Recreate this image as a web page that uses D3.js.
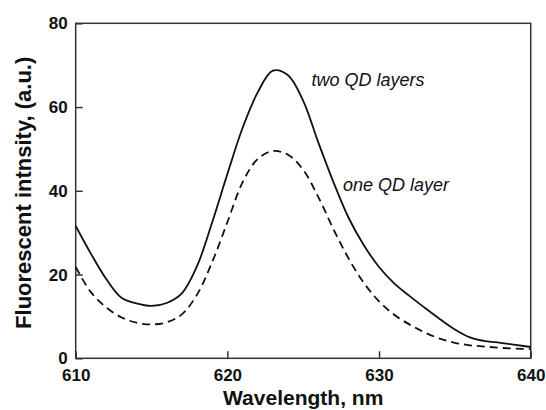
<!DOCTYPE html>
<html>
<head>
<meta charset="utf-8">
<script src="https://cdn.jsdelivr.net/npm/d3@7"></script>
<style>
  body { margin: 0; background: #fff; }
  svg { display: block; font-family: "Liberation Sans", Arial, sans-serif; }
</style>
</head>
<body>
<svg id="chart" width="546" height="410"></svg>
<script>
// wavelength grid (nm)
var wavelengths = [610, 611, 612, 613, 614, 615, 616, 617, 618, 619, 620,
    621, 622, 623, 624, 625, 626, 627, 628, 629, 630,
    631, 632, 633, 634, 635, 636, 637, 638, 639, 640];

// two QD layers (solid)
var twoLayers = [31.6, 25, 19, 14.5, 13.1, 12.5, 13.2, 15.5, 22, 32.5, 44,
    55, 63.5, 68.7, 67.6, 61.5, 51.5, 42, 33.5, 27, 21.8,
    17.9, 14.9, 12.1, 9.4, 6.9, 5, 4.1, 3.7, 3.2, 2.7];

// one QD layer (dashed)
var oneLayer = [21.8, 15.8, 12.2, 9.8, 8.5, 8.1, 8.6, 10.5, 15.2, 23, 32.5,
    42, 47.6, 49.5, 48.6, 45, 38.5, 30.8, 23.8, 18, 13.6,
    10.4, 8.1, 6.2, 4.7, 3.7, 3.1, 2.8, 2.5, 2.3, 2.2];

var xTicks = [610, 620, 630, 640];
var yTicks = [0, 20, 40, 60, 80];

var svg = d3.select("svg#chart");

var margin = {
    top:    23.3,
    right:  15.3,
    bottom: 51.7,
    left:   75.7
};

var plotWidth = 546 - margin.left - margin.right;
var plotHeight = 410 - margin.top - margin.bottom;

var xScale = d3.scaleLinear()
    .domain([610, 640])
    .range([0, plotWidth]);

var yScale = d3.scaleLinear()
    .domain([0, 80])
    .range([plotHeight, 0]);

var plot = svg.append("g")
    .attr("transform", "translate(" + margin.left + "," + margin.top + ")");

// frame
plot.append("rect")
    .attr("width", plotWidth)
    .attr("height", plotHeight)
    .attr("fill", "none")
    .attr("stroke", "#333")
    .attr("stroke-width", 1.5);

var xAxis = d3.axisBottom(xScale)
    .tickValues(xTicks)
    .tickSize(-7)
    .tickPadding(11)
    .tickFormat(d3.format("d"));

var yAxis = d3.axisLeft(yScale)
    .tickValues(yTicks)
    .tickSize(-7)
    .tickPadding(8)
    .tickFormat(d3.format("d"));

var xGroup = plot.append("g")
    .attr("transform", "translate(0," + plotHeight + ")")
    .call(xAxis);

var yGroup = plot.append("g").call(yAxis);

[xGroup, yGroup].forEach(function(g) {
    g.select(".domain").remove();
    g.selectAll(".tick line").attr("stroke", "#333").attr("stroke-width", 1.5);
    g.selectAll(".tick text")
        .attr("fill", "#111")
        .style("font-size", "17px")
        .style("font-weight", "bold")
        .style("font-family", "'Liberation Sans', Arial, sans-serif");
});

var line = d3.line()
    .x(function(d, i) { return xScale(wavelengths[i]); })
    .y(function(d) { return yScale(d); })
    .curve(d3.curveCatmullRom.alpha(0.5));

plot.append("path")
    .attr("d", line(twoLayers))
    .attr("fill", "none")
    .attr("stroke", "#111")
    .attr("stroke-width", 1.8);

plot.append("path")
    .attr("d", line(oneLayer))
    .attr("fill", "none")
    .attr("stroke", "#111")
    .attr("stroke-width", 1.8)
    .attr("stroke-dasharray", "8,5");

// curve labels
svg.append("text")
    .attr("x", 311.5)
    .attr("y", 86)
    .style("font-size", "18px")
    .style("font-style", "italic")
    .attr("fill", "#111")
    .text("two QD layers");

svg.append("text")
    .attr("x", 343)
    .attr("y", 191)
    .style("font-size", "18px")
    .style("font-style", "italic")
    .attr("fill", "#111")
    .text("one QD layer");

// axis titles
svg.append("text")
    .attr("x", margin.left + plotWidth / 2)
    .attr("y", 405)
    .style("font-size", "21px")
    .style("font-weight", "bold")
    .style("text-anchor", "middle")
    .attr("fill", "#111")
    .text("Wavelength, nm");

svg.append("text")
    .attr("transform", "rotate(-90)")
    .attr("x", -(margin.top + plotHeight / 2 + 2))
    .attr("y", 31)
    .style("font-size", "22px")
    .style("font-weight", "bold")
    .style("text-anchor", "middle")
    .attr("fill", "#111")
    .text("Fluorescent intnsity, (a.u.)");
</script>
</body>
</html>
